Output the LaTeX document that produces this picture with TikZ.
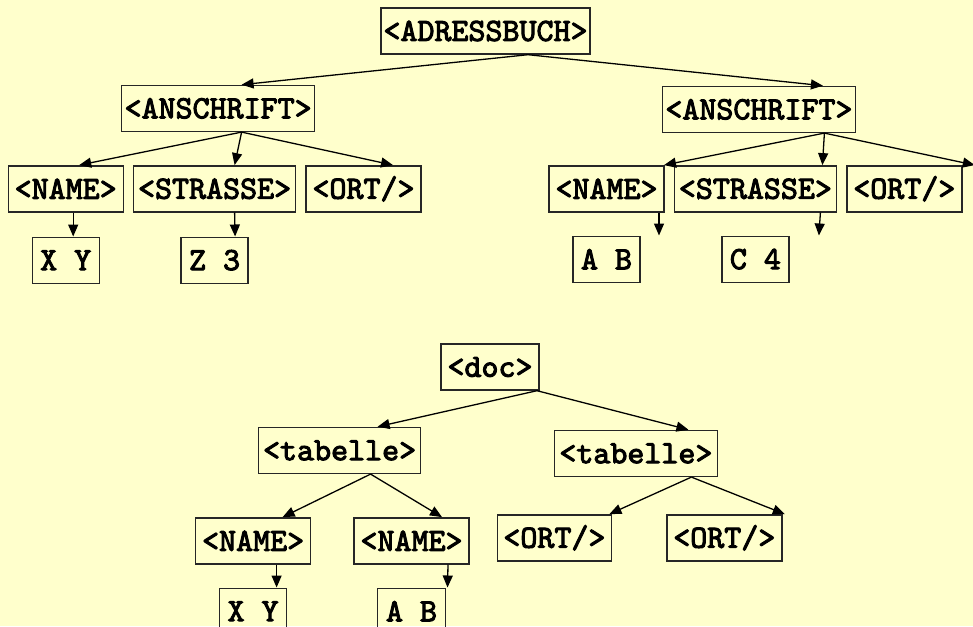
\documentclass[tikz,border=0pt]{standalone}
\usepackage{fontspec}
\newfontfamily\tagfont{lmmono10-regular.otf}[FakeBold=3]
\usepackage{xcolor}
\usetikzlibrary{positioning, arrows.meta}
\definecolor{slidebg}{HTML}{FFFFCC}

\begin{document}
\begin{tikzpicture}[
      node distance=9pt and 9pt,
      box/.style={draw=black!85, line width=1.4pt, minimum height=46pt, inner xsep=2pt, inner ysep=0pt,
        font=\fontsize{32.4}{38}\tagfont\bfseries},
      arr/.style={-{Triangle[length=12pt,width=10pt]}, line width=1.3pt}
    ]
    \fill[slidebg] (0,0) rectangle (973pt,-626pt);
    \useasboundingbox (0,0) rectangle (973pt,-626pt);

    % adressbuch
    \node[box, minimum width=209pt] (adr) at (485.5pt,-31pt) {<ADRESSBUCH>};
    \node[box, minimum width=193pt, below left=30pt and 65pt of adr] (lan) {<ANSCHRIFT>};
    \node[box, minimum width=193pt, below right=31pt and 71pt of adr] (ran) {<ANSCHRIFT>};

    \node[box, minimum width=162pt, below=33pt of lan, xshift=-3.5pt] (lstr) {<STRASSE>};
    \node[box, minimum width=115pt, left=of lstr] (lname) {<NAME>};
    \node[box, minimum width=115pt, right=of lstr] (lort) {<ORT/>};
    \node[box, minimum width=67pt, below=24pt of lname] (lxy) {X Y};
    \node[box, minimum width=67pt, below=24pt of lstr] (lz) {Z 3};

    \node[box, minimum width=162pt, below=32pt of ran, xshift=-3.5pt] (rstr) {<STRASSE>};
    \node[box, minimum width=115pt, left=of rstr] (rname) {<NAME>};
    \node[box, minimum width=115pt, right=of rstr] (rort) {<ORT/>};
    \node[box, minimum width=67pt, below=23pt of rname] (rab) {A B};
    \node[box, minimum width=67pt, below=23pt of rstr] (rc) {C 4};

    \draw[arr] ([xshift=42.5pt]adr.south) -- ([xshift=23.5pt]lan.north);
    \draw[arr] ([xshift=42.5pt]adr.south) -- ([xshift=64pt]ran.north);
    \draw[arr] ([xshift=23.5pt]lan.south) -- ([xshift=13.5pt]lname.north);
    \draw[arr] ([xshift=23.5pt]lan.south) -- ([xshift=20pt]lstr.north);
    \draw[arr] ([xshift=23.5pt]lan.south) -- ([xshift=29.5pt]lort.north);
    \draw[arr] ([xshift=7.5pt]lname.south) -- ([xshift=7.5pt]lxy.north);
    \draw[arr] ([xshift=20pt]lstr.south) -- ([xshift=20.5pt]lz.north);
    \draw[arr] ([xshift=65.5pt]ran.south) -- ([xshift=57.5pt]rname.north);
    \draw[arr] ([xshift=65.5pt]ran.south) -- ([xshift=67pt]rstr.north);
    \draw[arr] ([xshift=65.5pt]ran.south) -- ([xshift=70.5pt]rort.north);
    \draw[arr] ([xshift=52.5pt]rname.south) -- ([xshift=52.5pt]rab.north);
    \draw[arr] ([xshift=65pt]rstr.south) -- ([xshift=63.5pt]rc.north);

    % doc
    \node[box, minimum width=98pt] (doc) at (490pt,-367pt) {<doc>};
    \node[box, minimum width=162pt, below left=36pt and 19pt of doc] (ltab) {<tabelle>};
    \node[box, minimum width=163pt, below right=39pt and 14pt of doc] (rtab) {<tabelle>};

    \node[box, minimum width=115pt, below=43pt of ltab, xshift=-86.5pt] (bname) {<NAME>};
    \node[box, minimum width=115pt, right=42pt of bname] (bnamez) {<NAME>};
    \node[box, minimum width=67pt, below=23pt of bname] (bxy) {X Y};
    \node[box, minimum width=68pt, below=23pt of bnamez] (bab) {A B};

    \node[box, minimum width=114pt, below=37pt of rtab, xshift=-81.5pt] (bort) {<ORT/>};
    \node[box, minimum width=115pt, right=54pt of bort] (bortz) {<ORT/>};

    \draw[arr] ([xshift=47pt]doc.south) -- ([xshift=38pt]ltab.north);
    \draw[arr] ([xshift=47pt]doc.south) -- ([xshift=52.5pt]rtab.north);
    \draw[arr] ([xshift=31pt]ltab.south) -- ([xshift=29.5pt]bname.north);
    \draw[arr] ([xshift=31pt]ltab.south) -- ([xshift=30.5pt]bnamez.north);
    \draw[arr] ([xshift=23.5pt]bname.south) -- ([xshift=23.5pt]bxy.north);
    \draw[arr] ([xshift=36.5pt]bnamez.south) -- ([xshift=36pt]bab.north);
    \draw[arr] ([xshift=55.5pt]rtab.south) -- ([xshift=55pt]bort.north);
    \draw[arr] ([xshift=55.5pt]rtab.south) -- ([xshift=60.5pt]bortz.north);
  \end{tikzpicture}
\end{document}
